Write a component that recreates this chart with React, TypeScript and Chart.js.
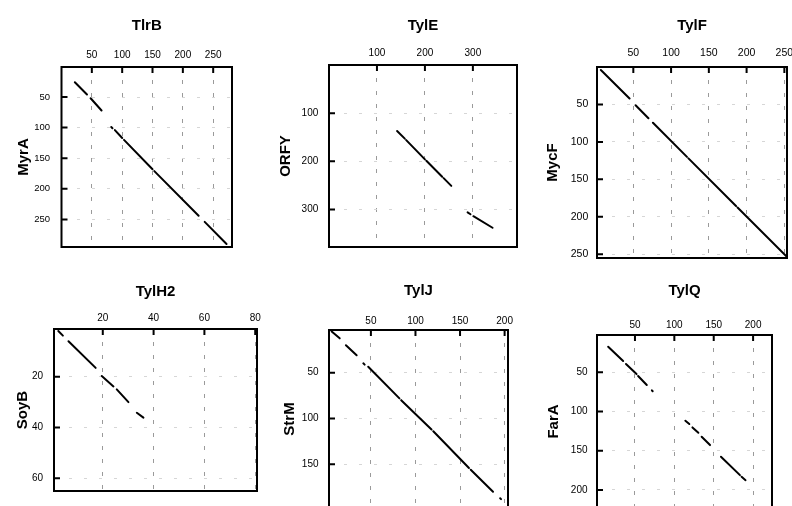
import React, { useEffect, useRef } from 'react';
import { Chart, registerables } from 'chart.js';

Chart.register(...registerables);

// ---- data ----
const xNames = ['TlrB', 'TylE', 'TylF', 'TylH2', 'TylJ', 'TylQ'];
const yNames = ['MyrA', 'ORFY', 'MycF', 'SoyB', 'StrM', 'FarA'];

const xRanges = [[0, 281], [0, 392], [1.9, 253.5], [0.8, 80.7], [3, 203.8], [1.8, 224]];
const yRanges = [[1, 295], [0, 378], [0, 255], [1.2, 65], [3.4, 197.7], [2.5, 223]];

const xTickValues = [
  [50, 100, 150, 200, 250],
  [100, 200, 300],
  [50, 100, 150, 200, 250],
  [20, 40, 60, 80],
  [50, 100, 150, 200],
  [50, 100, 150, 200],
];
const yTickValues = [
  [50, 100, 150, 200, 250],
  [100, 200, 300],
  [50, 100, 150, 200, 250],
  [20, 40, 60],
  [50, 100, 150],
  [50, 100, 150, 200],
];

// match segments: [xStart, yStart, xEnd, yEnd]
const segsTlrBMyrA = [
  [22, 26, 42, 46],
  [48, 52, 66, 72],
  [82, 99, 84, 101],
  [88, 104, 100, 117],
  [103, 120, 150, 168],
  [153, 171, 226, 244],
  [236, 254, 272, 290],
];
const segsTylEORFY = [
  [142, 137, 158, 153],
  [161, 156, 200, 196],
  [203, 199, 236, 232],
  [239, 235, 255, 251],
  [289, 306, 295, 310],
  [301, 314, 341, 338],
];
const segsTylFMycF = [
  [7, 4, 45, 42],
  [53, 51, 70, 68.5],
  [76, 74.5, 121, 120],
  [123, 122, 186, 185.5],
  [188, 187.5, 253, 253],
];
const segsTylH2SoyB = [
  [2.5, 2, 4.3, 3.8],
  [6.5, 6, 17.2, 16.5],
  [19.6, 19.7, 24.2, 23.8],
  [25.5, 25, 30.1, 30],
  [33.4, 34.2, 36, 36.1],
];
const segsTylJStrM = [
  [6, 5, 15, 12.5],
  [22, 20, 34, 31],
  [41.5, 39.8, 43, 41.2],
  [47, 43.5, 82, 78],
  [84, 80, 118, 112],
  [120, 114, 160, 154],
  [162, 156, 187, 180],
  [195, 187, 196, 188],
];
const segsTylQFarA = [
  [16, 17.4, 35, 35.7],
  [38.6, 39.5, 52, 52.3],
  [54, 54.8, 65, 66.3],
  [71.5, 73, 72.5, 74.2],
  [114, 111.8, 119, 116],
  [123, 120.3, 130.5, 127.1],
  [134.7, 132.2, 145.3, 142.8],
  [159.2, 157.7, 183.3, 181.1],
  [185.4, 183.2, 190.4, 187.5],
];
const panelSegments = [segsTlrBMyrA, segsTylEORFY, segsTylFMycF, segsTylH2SoyB, segsTylJStrM, segsTylQFarA];

// ---- layout (positions / sizes / fonts) ----
const layouts = [
  { left: 0, top: 0, boxL: 61.5, boxR: 232, boxT: 67, boxB: 247, xTitlePad: 16.6, yTitlePad: 15, xTickPad: 6, yTickPad: 11.5, xFont: 10, yFont: 9.5 },
  { left: 265, top: 0, boxL: 329, boxR: 517, boxT: 65, boxB: 247, xTitlePad: 16.6, yTitlePad: 11.7, xTickPad: 5.7, yTickPad: 10.7, xFont: 10, yFont: 10 },
  { left: 530, top: 0, boxL: 597, boxR: 787, boxT: 67, boxB: 258, xTitlePad: 16.6, yTitlePad: 14, xTickPad: 8, yTickPad: 8.7, xFont: 10.5, yFont: 10.5 },
  { left: 0, top: 265, boxL: 54, boxR: 257, boxT: 329, boxB: 491, xTitlePad: 17.7, yTitlePad: 13.5, xTickPad: 5, yTickPad: 11, xFont: 10, yFont: 10 },
  { left: 265, top: 265, boxL: 329, boxR: 508, boxT: 330, boxB: 508, xTitlePad: 16.9, yTitlePad: 16, xTickPad: 3.2, yTickPad: 10.5, xFont: 10, yFont: 10 },
  { left: 530, top: 265, boxL: 597, boxR: 772, boxT: 335, boxB: 508, xTitlePad: 16.9, yTitlePad: 15, xTickPad: 3.5, yTickPad: 9.5, xFont: 10, yFont: 10 },
];

const RPAD = 14;
const BPAD = 3;
const FONT = "'Liberation Sans', Arial, Helvetica, sans-serif";

const framePlugin = {
  id: 'frame',
  afterDatasetsDraw(chart: any) {
    const { ctx, chartArea } = chart;
    const { left, top, right, bottom } = chartArea;
    const xs = chart.scales.x;
    const ys = chart.scales.y;
    ctx.save();
    ctx.strokeStyle = '#000';
    ctx.lineWidth = 2;
    ctx.strokeRect(left, top, right - left, bottom - top);
    ctx.beginPath();
    xs.ticks.forEach((t: any) => {
      const px = xs.getPixelForValue(t.value);
      ctx.moveTo(px, top);
      ctx.lineTo(px, top + 6);
    });
    ys.ticks.forEach((t: any) => {
      const py = ys.getPixelForValue(t.value);
      ctx.moveTo(left, py);
      ctx.lineTo(left + 6, py);
    });
    ctx.stroke();
    ctx.restore();
  },
};

function buildPoints(segs: number[][]) {
  const pts: { x: number; y: number | null }[] = [];
  segs.forEach(([x1, y1, x2, y2]) => {
    pts.push({ x: x1, y: y1 });
    pts.push({ x: x2, y: y2 });
    pts.push({ x: x2, y: null });
  });
  return pts;
}

function Panel({ idx }: { idx: number }) {
  const ref = useRef<HTMLCanvasElement | null>(null);
  const lay = layouts[idx];
  const width = Math.round(lay.boxR - lay.left + RPAD);
  const height = Math.round(lay.boxB - lay.top + BPAD);

  useEffect(() => {
    if (!ref.current) return;
    const xt = xTickValues[idx];
    const yt = yTickValues[idx];
    const chart = new Chart(ref.current, {
      type: 'line',
      data: {
        datasets: [
          {
            data: buildPoints(panelSegments[idx]) as any,
            borderColor: '#000',
            borderWidth: 2,
            borderCapStyle: 'round',
            pointRadius: 0,
            spanGaps: false,
            tension: 0,
            fill: false,
          },
        ],
      },
      options: {
        animation: false,
        responsive: false,
        maintainAspectRatio: false,
        devicePixelRatio: 1,
        events: [],
        layout: { padding: { left: 0, top: 0, right: RPAD, bottom: BPAD }, autoPadding: false } as any,
        plugins: { legend: { display: false }, tooltip: { enabled: false }, title: { display: false } },
        scales: {
          x: {
            type: 'linear',
            position: 'top',
            min: xRanges[idx][0],
            max: xRanges[idx][1],
            afterBuildTicks: (s: any) => {
              s.ticks = xt.map((v) => ({ value: v }));
            },
            afterFit: (s: any) => {
              s.height = lay.boxT - lay.top;
              s.paddingLeft = 0;
              s.paddingRight = 0;
              s.paddingTop = 0;
              s.paddingBottom = 0;
            },
            grid: { color: '#9a9a9a', lineWidth: 1, drawTicks: false },
            border: { display: false, dash: [4, 9] },
            ticks: {
              autoSkip: false,
              maxRotation: 0,
              minRotation: 0,
              padding: lay.xTickPad,
              color: '#000',
              font: { family: FONT, size: lay.xFont },
            },
            title: {
              display: true,
              text: xNames[idx],
              color: '#000',
              font: { family: FONT, size: 15, weight: 'bold' },
              padding: { top: lay.xTitlePad, bottom: 0 },
            },
          },
          y: {
            type: 'linear',
            position: 'left',
            reverse: true,
            min: yRanges[idx][0],
            max: yRanges[idx][1],
            afterBuildTicks: (s: any) => {
              s.ticks = yt.map((v) => ({ value: v }));
            },
            afterFit: (s: any) => {
              s.width = lay.boxL - lay.left;
              s.paddingLeft = 0;
              s.paddingRight = 0;
              s.paddingTop = 0;
              s.paddingBottom = 0;
            },
            grid: { color: '#d6d6d6', lineWidth: 1, drawTicks: false },
            border: { display: false, dash: [3, 12] },
            ticks: {
              autoSkip: false,
              padding: lay.yTickPad,
              color: '#000',
              font: { family: FONT, size: lay.yFont },
            },
            title: {
              display: true,
              text: yNames[idx],
              color: '#000',
              font: { family: FONT, size: 15, weight: 'bold' },
              padding: { top: lay.yTitlePad, bottom: 0 },
            },
          },
        },
      } as any,
      plugins: [framePlugin],
    });
    return () => chart.destroy();
  }, [idx]);

  return (
    <canvas
      ref={ref}
      width={width}
      height={height}
      style={{ position: 'absolute', left: lay.left, top: lay.top, width, height }}
    />
  );
}

export default function App() {
  return (
    <div
      style={{
        position: 'fixed',
        left: 0,
        top: 0,
        width: 792,
        height: 506,
        overflow: 'hidden',
        background: '#fff',
      }}
    >
      {xNames.map((_, i) => (
        <Panel key={i} idx={i} />
      ))}
    </div>
  );
}
